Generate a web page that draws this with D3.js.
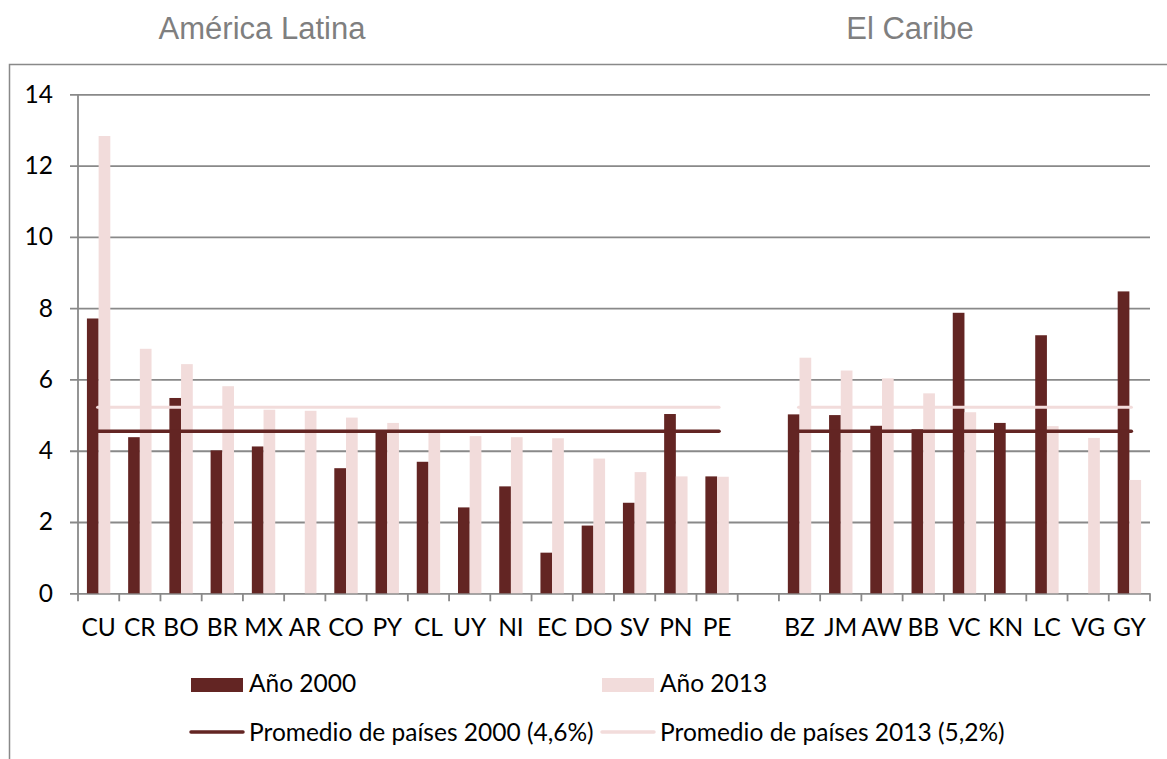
<!DOCTYPE html>
<html>
<head>
<meta charset="utf-8">
<script src="https://cdn.jsdelivr.net/npm/d3@7"></script>
<style>
  html, body { margin: 0; padding: 0; background: #fff; }
  svg { display: block; }
</style>
</head>
<body>
<svg id="chart" width="1167" height="759"></svg>
<script>
// ---- data ----
const latinCats = ["CU","CR","BO","BR","MX","AR","CO","PY","CL","UY","NI","EC","DO","SV","PN","PE"];
const caribCats = ["BZ","JM","AW","BB","VC","KN","LC","VG","GY"];
const latin2000 = [7.71, 4.38, 5.48, 4.01, 4.12, null, 3.51, 4.58, 3.69, 2.41, 3.00, 1.14, 1.90, 2.54, 5.03, 3.28];
const latin2013 = [12.83, 6.86, 6.43, 5.81, 5.15, 5.12, 4.93, 4.78, 4.53, 4.41, 4.38, 4.35, 3.78, 3.40, 3.28, 3.27];
const carib2000 = [5.02, 5.00, 4.70, 4.60, 7.87, 4.78, 7.24, null, 8.47];
const carib2013 = [6.61, 6.25, 6.03, 5.61, 5.08, null, 4.69, 4.36, 3.18];
const avg2000 = 4.55;
const avg2013 = 5.22;
const yTicks = [0, 2, 4, 6, 8, 10, 12, 14];
const groupTitles = ["América Latina", "El Caribe"];
const seriesNames = ["Año 2000", "Año 2013"];
const avgNames = ["Promedio de países 2000 (4,6%)", "Promedio de países 2013 (5,2%)"];

// ---- styles ----
const C2000 = "#632523";
const C2013 = "#f2dcdb";
const GRID = "#898989";
const FONT = "Lato, 'Open Sans', sans-serif";
const FS = 24.5;

const GAP = "__gap__";
const cats = latinCats.concat([GAP], caribCats);
const rows = [];
latinCats.forEach((c, i) => rows.push({c, a: latin2000[i], b: latin2013[i]}));
caribCats.forEach((c, i) => rows.push({c, a: carib2000[i], b: carib2013[i]}));

const svg = d3.select("#chart");
const L = 78, R = 1150, T = 94.3, B = 593.3;

const x = d3.scaleBand().domain(cats).range([L, R]).paddingInner(0.4325).paddingOuter(0.21625);
const y = d3.scaleLinear().domain([0, 14]).range([B, T]);
const bw = x.bandwidth() / 2;

// outer frame (partially visible)
svg.append("path")
  .attr("d", `M9.5,${759} L9.5,64.5 L1167,64.5`)
  .attr("fill", "none").attr("stroke", GRID).attr("stroke-width", 1.5);

// titles
const titleX = [262, 910];
svg.selectAll("text.title").data(groupTitles).join("text")
  .attr("class", "title")
  .attr("x", (d, i) => titleX[i]).attr("y", 39)
  .attr("text-anchor", "middle")
  .attr("font-family", "'Liberation Sans', Arial, sans-serif")
  .attr("font-size", 31).attr("fill", "#7f7f7f")
  .text(d => d);

// gridlines + y labels
const yAxis = d3.axisLeft(y).tickValues(yTicks).tickSize(-(R - L + 8)).tickPadding(17).tickFormat(d3.format("d"));
const gy = svg.append("g").attr("transform", `translate(${L - 8},0)`).call(yAxis);
gy.select(".domain").remove();
gy.selectAll(".tick line").attr("stroke", GRID).attr("stroke-width", 1.8);
gy.selectAll(".tick text").attr("font-family", FONT).attr("font-size", FS).attr("fill", "#000");

// y axis line
svg.append("line").attr("x1", L).attr("x2", L).attr("y1", y(14)).attr("y2", y(0))
  .attr("stroke", GRID).attr("stroke-width", 1.8);

// x boundary ticks
const step = x.step();
svg.append("g").selectAll("line").data(d3.range(cats.length + 1)).join("line")
  .attr("x1", i => L + i * step).attr("x2", i => L + i * step)
  .attr("y1", y(0)).attr("y2", y(0) + 8)
  .attr("stroke", GRID).attr("stroke-width", 1.8);

// x labels
const xAxis = d3.axisBottom(x).tickSize(0).tickPadding(25).tickFormat(d => d === GAP ? "" : d);
const gx = svg.append("g").attr("transform", `translate(0,${y(0)})`).call(xAxis);
gx.select(".domain").remove();
gx.selectAll(".tick text").attr("font-family", FONT).attr("font-size", FS).attr("fill", "#000");

// bars
const gb = svg.append("g");
gb.selectAll("rect.b2000").data(rows.filter(r => r.a != null)).join("rect")
  .attr("class", "b2000")
  .attr("x", r => x(r.c)).attr("width", bw)
  .attr("y", r => y(r.a)).attr("height", r => y(0) - y(r.a))
  .attr("fill", C2000);
gb.selectAll("rect.b2013").data(rows.filter(r => r.b != null)).join("rect")
  .attr("class", "b2013")
  .attr("x", r => x(r.c) + bw).attr("width", bw)
  .attr("y", r => y(r.b)).attr("height", r => y(0) - y(r.b))
  .attr("fill", C2013);

// average lines
const center = c => x(c) + x.bandwidth() / 2;
const segs = [[latinCats[0], latinCats[latinCats.length - 1]], [caribCats[0], caribCats[caribCats.length - 1]]];
const avgDefs = [{v: avg2013, col: C2013, w: 3}, {v: avg2000, col: C2000, w: 3.5}];
avgDefs.forEach(a => {
  segs.forEach(s => {
    svg.append("line")
      .attr("x1", center(s[0]) - 1).attr("x2", center(s[1]) + 2)
      .attr("y1", y(a.v)).attr("y2", y(a.v))
      .attr("stroke", a.col).attr("stroke-width", a.w).attr("stroke-linecap", "round");
  });
});

// legend
const legX = [191, 602];
const lg = svg.append("g");
[C2000, C2013].forEach((col, i) => {
  lg.append("rect").attr("x", legX[i]).attr("y", 678).attr("width", 52).attr("height", 14).attr("fill", col);
  lg.append("text").attr("x", legX[i] + 58).attr("y", 692)
    .attr("font-family", FONT).attr("font-size", FS).attr("fill", "#000").text(seriesNames[i]);
  lg.append("line").attr("x1", legX[i]).attr("x2", legX[i] + 52).attr("y1", 732).attr("y2", 732)
    .attr("stroke", col).attr("stroke-width", 3.5).attr("stroke-linecap", "round");
  lg.append("text").attr("x", legX[i] + 58).attr("y", 741)
    .attr("font-family", FONT).attr("font-size", FS).attr("fill", "#000").text(avgNames[i]);
});
</script>
</body>
</html>
